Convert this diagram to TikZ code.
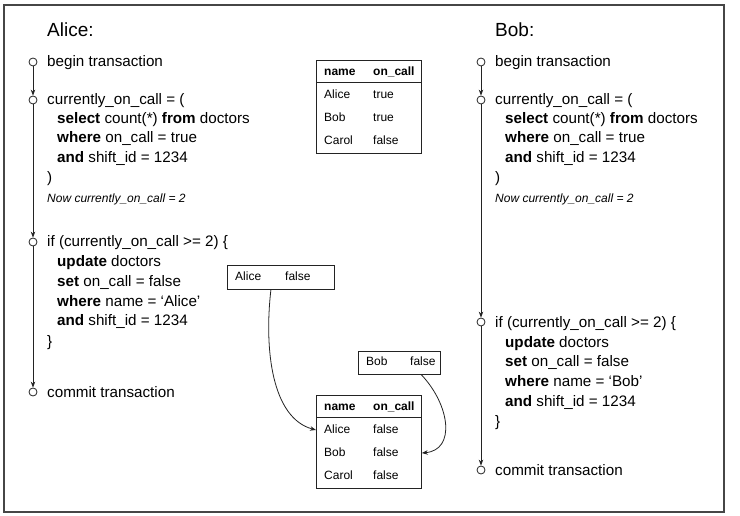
\documentclass[tikz,border=0pt]{standalone}
\usepackage{fontspec}
\setmainfont{Liberation Sans}
\usetikzlibrary{arrows.meta,positioning,calc}
\definecolor{cline}{RGB}{35,35,35}
\definecolor{cframe}{RGB}{70,70,70}

\begin{document}
\begin{tikzpicture}[x=1pt,y=-1pt,>={Stealth[length=6pt,width=4.5pt]},
  code/.style={anchor=west,inner sep=0pt,font=\fontsize{15.2}{18}\selectfont,text height=12pt,text depth=2pt},
  note/.style={code,font=\fontsize{12}{14}\selectfont\itshape},
  who/.style={anchor=west,inner sep=0pt,font=\fontsize{19}{22}\selectfont},
  tick/.style={draw=cline,circle,fill=white,inner sep=0pt,minimum size=8pt,line width=0.8pt},
  flow/.style={->,draw=cline,line width=0.8pt},
  cell/.style={anchor=west,inner sep=0pt,font=\fontsize{12}{14}\selectfont,text height=9pt,text depth=2.5pt},
  hcell/.style={cell,font=\fontsize{12}{14}\selectfont\bfseries},
  tab/.style={draw=cline,line width=0.8pt,anchor=north west,inner sep=0pt}]

\useasboundingbox (0,0) rectangle (740,516);
\draw[cframe,line width=1.2pt] (4,5) rectangle (724,512);

% ===== Alice =====
\node[who] (alice) at (47,30) {Alice:};
\foreach \n/\y in {0/62,1/100,2/242,3/392}{\node[tick] (a\n) at (33,\y) {};}
\foreach \a/\b in {a0/a1,a1/a2,a2/a3}{\draw[flow] (\a) -- (\b);}
\foreach \x/\y/\t [count=\i] in {47/62/begin transaction,
    47/100/currently\_on\_call = (,
    57/119/\textbf{select} count(*) \textbf{from} doctors,
    57/138/\textbf{where} on\_call = true,
    57/158/\textbf{and} shift\_id = 1234,
    47/178/),
    47/242/if (currently\_on\_call >= 2) \{,
    57/262/\textbf{update} doctors,
    57/282/\textbf{set} on\_call = false,
    57/301/\textbf{where} name = ‘Alice’,
    57/321/\textbf{and} shift\_id = 1234,
    47/341/\},
    47/392/commit transaction}{
  \node[code] (at\i) at (\x,\y) {\t};}
\node[note] (anow) at (47,198) {Now currently\_on\_call = 2};

% ===== Bob =====
\node[who] (bob) at (495,30) {Bob:};
\foreach \n/\y in {0/62,1/100,2/322,3/470}{\node[tick] (b\n) at (481,\y) {};}
\foreach \a/\b in {b0/b1,b1/b2,b2/b3}{\draw[flow] (\a) -- (\b);}
\foreach \x/\y/\t [count=\i] in {495/62/begin transaction,
    495/100/currently\_on\_call = (,
    505/119/\textbf{select} count(*) \textbf{from} doctors,
    505/138/\textbf{where} on\_call = true,
    505/158/\textbf{and} shift\_id = 1234,
    495/178/),
    495/322/if (currently\_on\_call >= 2) \{,
    505/342/\textbf{update} doctors,
    505/361/\textbf{set} on\_call = false,
    505/381/\textbf{where} name = ‘Bob’,
    505/401/\textbf{and} shift\_id = 1234,
    495/421/\},
    495/470/commit transaction}{
  \node[code] (bt\i) at (\x,\y) {\t};}
\node[note] (bnow) at (495,198) {Now currently\_on\_call = 2};

% ===== table before =====
\node[tab,minimum width=105pt,minimum height=93pt] (t1) at (316,60) {};
\draw[cline,line width=0.8pt] ([yshift=-22pt]t1.north west) -- ([yshift=-22pt]t1.north east);
\node[hcell] (t1h1) at (324,72) {name};
\node[hcell] (t1h2) at (373,72) {on\_call};
\foreach \y/\n/\v [count=\i] in {95/Alice/true,118/Bob/true,141/Carol/false}{
  \node[cell] (t1n\i) at (324,\y) {\n};
  \node[cell] (t1v\i) at (373,\y) {\v};}

% ===== table after =====
\node[tab,minimum width=105pt,minimum height=93pt] (t2) at (316,395) {};
\draw[cline,line width=0.8pt] ([yshift=-22pt]t2.north west) -- ([yshift=-22pt]t2.north east);
\node[hcell] (t2h1) at (324,407) {name};
\node[hcell] (t2h2) at (373,407) {on\_call};
\foreach \y/\n/\v [count=\i] in {430/Alice/false,453/Bob/false,476/Carol/false}{
  \node[cell] (t2n\i) at (324,\y) {\n};
  \node[cell] (t2v\i) at (373,\y) {\v};}

% ===== updates =====
\node[tab,minimum width=107pt,minimum height=24pt] (upa) at (227,265) {};
\node[cell] (upan) at (235,277) {Alice};
\node[cell] (upav) at (285,277) {false};
\node[tab,minimum width=82pt,minimum height=23pt] (upb) at (358,351) {};
\node[cell] (upbn) at (366,362.5) {Bob};
\node[cell] (upbv) at (410,362.5) {false};
\draw[flow] ([xshift=-10pt]upa.south) .. controls (264,350) and (272,418) .. (t2.west |- t2n1);
\draw[flow] ([xshift=22pt]upb.south) .. controls (450,405) and (456,450) .. (t2.east |- t2n2);
\end{tikzpicture}
\end{document}
